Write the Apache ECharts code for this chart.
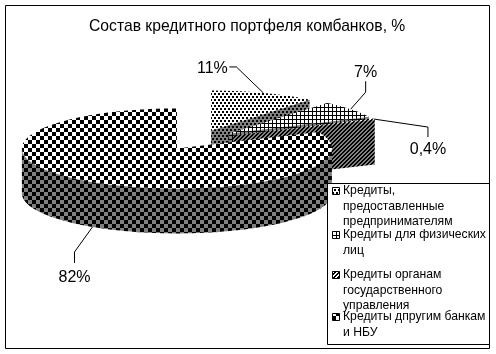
<!DOCTYPE html>
<html><head><meta charset="utf-8">
<style>html,body{margin:0;padding:0;background:#fff}#c{width:496px;height:354px}</style>
<script src="https://cdn.jsdelivr.net/npm/echarts@6/dist/echarts.min.js"></script>
</head><body><div id="c"></div>
<script>
const titleText = 'Состав кредитного портфеля комбанков, %';
const categories = ['Кредиты,\nпредоставленные\nпредпринимателям','Кредиты для физических\nлиц','Кредиты органам\nгосударственного\nуправления','Кредиты дпругим банкам\nи НБУ'];
const values = [11, 7, 0.4, 82];
const valueLabels = ['11%', '7%', '0,4%', '82%'];
const legendTops = [183, 227, 267, 309];

const font = '"Liberation Sans", Arial, sans-serif';
const FG = '#000';

function tile(rows, map) {
  const cv = document.createElement('canvas');
  cv.height = rows.length; cv.width = rows[0].length;
  const g = cv.getContext('2d');
  rows.forEach((r, y) => [...r].forEach((ch, x) => { g.fillStyle = map[ch]; g.fillRect(x, y, 1, 1); }));
  return { image: cv, repeat: 'repeat' };
}
const lit = { '#': '#000', '.': '#fff' }, dim = { '#': '#000', '.': '#808080' };
const pDots = ['##..', '##..', '....', '..##', '..##', '....'];
const pGrid = ['#...', '#...', '#...', '####'];
const pDiag = ['..##', '.##.', '##..', '#..#'];
const pCheck = ['####....', '####....', '####....', '####....', '....####', '....####', '....####', '....####'];
const patterns = [
  { top: tile(pDots, lit), wall: tile(pDots, dim) },
  { top: tile(pGrid, lit), wall: tile(pGrid, dim) },
  { top: tile(pDiag, lit), wall: tile(pDiag, dim) },
  { top: tile(pCheck, lit), wall: tile(pCheck, dim) }
];

const geo = { cx: 198, cy: 140, rx: 155, ry: 40, depth: 45, explode: 0.25 };
// leader line bends and text centre, relative to each slice's rim point
const labelLayout = [
  { bends: [[-27, -26], [-34, -26]], text: [-51, -24], onWall: false },
  { bends: [[15, -17], [15, -28]], text: [15, -37], onWall: false },
  { bends: [[54, 8], [54, 18]], text: [54, 31], onWall: false },
  { bends: [[-18, 25], [-18, 36]], text: [-18, 51], onWall: true }
];

const total = values.reduce((a, b) => a + b, 0);
const spans = []; values.reduce((acc, v) => { const e = acc + v / total * Math.PI * 2; spans.push([acc, e]); return e; }, 0);

function origin(i) {
  const mid = (spans[i][0] + spans[i][1]) / 2;
  return [geo.cx + geo.explode * geo.rx * Math.sin(mid), geo.cy - geo.explode * geo.ry * Math.cos(mid), mid];
}
function renderItem(params) {
  const i = params.dataIndex, [a0, a1] = spans[i], [ox, oy] = origin(i);
  const pt = (a, dz = 0) => [ox + geo.rx * Math.sin(a), oy - geo.ry * Math.cos(a) + dz];
  const arc = (s, e, dz = 0) => { const n = Math.max(2, Math.ceil((e - s) * 40)), r = []; for (let k = 0; k <= n; k++) r.push(pt(s + (e - s) * k / n, dz)); return r; };
  const kids = [], poly = (points, fill) => kids.push({ type: 'polygon', shape: { points }, style: { fill } });
  const p = patterns[i];
  if (a1 < Math.PI) poly([[ox, oy], pt(a1), pt(a1, geo.depth), [ox, oy + geo.depth]], p.wall);
  const s = Math.max(a0, Math.PI / 2), e = Math.min(a1, Math.PI * 1.5);
  if (e > s) poly(arc(s, e).concat(arc(s, e, geo.depth).reverse()), p.wall);
  poly([[ox, oy]].concat(arc(a0, a1)), p.top);
  return { type: 'group', children: kids };
}
function renderLabels(params) {
  const i = params.dataIndex, [ox, oy, mid] = origin(i), L = labelLayout[i];
  const ax = ox + geo.rx * Math.sin(mid), ay = oy - geo.ry * Math.cos(mid) + (L.onWall ? geo.depth : 0);
  const pts = [[ax, ay]].concat(L.bends.map(b => [ax + b[0], ay + b[1]]));
  return { type: 'group', children: [
    { type: 'polyline', shape: { points: pts }, style: { stroke: FG, fill: null, lineWidth: 1 } },
    { type: 'text', style: { x: ax + L.text[0], y: ay + L.text[1], text: valueLabels[i], font: '16px ' + font, fill: FG, align: 'center', verticalAlign: 'middle' } }
  ] };
}
const chart = echarts.init(document.getElementById('c'), null, { renderer: 'canvas' });
const legendGraphics = [
  { type: 'rect', shape: { x: 327.5, y: 183.5, width: 162, height: 161 }, style: { fill: '#fff', stroke: FG, lineWidth: 1 }, z: 20 }
];
categories.forEach((c, i) => {
  legendGraphics.push({ type: 'rect', shape: { x: 332.5, y: legendTops[i] + 4.5, width: 7, height: 7 }, style: { fill: patterns[i].top, stroke: FG, lineWidth: 1 }, z: 21 });
  legendGraphics.push({ type: 'text', x: 343, y: legendTops[i], z: 21, style: { text: c, font: '12.2px ' + font, lineHeight: 15.5, fill: FG } });
});
chart.setOption({
  animation: false,
  backgroundColor: '#fff',
  title: { text: titleText, left: 89, top: 19, padding: 0, textStyle: { fontFamily: font, fontSize: 15.7, fontWeight: 'normal', color: FG } },
  xAxis: { show: false }, yAxis: { show: false },
  graphic: [{ type: 'rect', silent: true, z: -1, shape: { x: 5.5, y: 5.5, width: 484, height: 343 }, style: { fill: '#fff', stroke: FG, lineWidth: 1 } }].concat(legendGraphics),
  series: [
    { type: 'custom', coordinateSystem: 'none', data: values, renderItem, clip: false, z: 2 },
    { type: 'custom', coordinateSystem: 'none', data: values, renderItem: renderLabels, clip: false, z: 3 }
  ]
});
</script></body></html>
